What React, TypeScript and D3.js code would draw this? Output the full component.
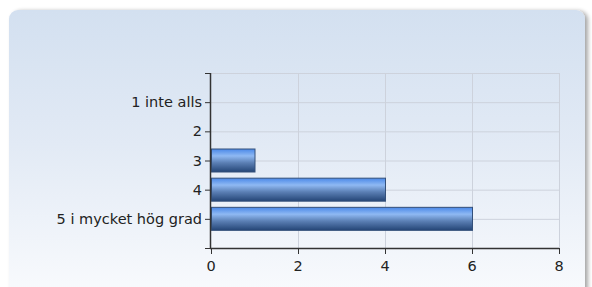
import React from 'react';
import * as d3 from 'd3';

const categories = ['1 inte alls', '2', '3', '4', '5 i mycket hög grad'];
const values = [0, 0, 1, 4, 6];
const xTicks = [0, 2, 4, 6, 8];

const W = 592;
const H = 287;

export default function App() {
  const margin = { left: 211, right: 33, top: 73, bottom: 39 };

  const x = d3.scaleLinear().domain([0, 8]).range([margin.left, W - margin.right]);
  // categories sit at 1..5 on a 0..6 scale
  const y = d3.scaleLinear().domain([0, 6]).range([margin.top, H - margin.bottom]);
  const yTicks = d3.range(0, 7);
  const barH = 23;

  const font = 'DejaVu Sans, Verdana, sans-serif';
  const fs = 14.5;

  return (
    <svg width={W} height={H} style={{ position: 'absolute', left: 0, top: 0 }}>
      <defs>
        <linearGradient id="panel" x1="0" y1="0" x2="0" y2="1">
          <stop offset="0%" stopColor="#d3e0f0" />
          <stop offset="45%" stopColor="#e2eaf5" />
          <stop offset="100%" stopColor="#fbfcfe" />
        </linearGradient>
        <linearGradient id="bar" x1="0" y1="0" x2="0" y2="1">
          <stop offset="0%" stopColor="#4a88e8" />
          <stop offset="30%" stopColor="#8fb9f3" />
          <stop offset="60%" stopColor="#5b7fb4" />
          <stop offset="100%" stopColor="#244576" />
        </linearGradient>
        <filter id="shadow" x="-5%" y="-5%" width="110%" height="110%">
          <feGaussianBlur in="SourceAlpha" stdDeviation="2" />
          <feOffset dx="3" dy="1" result="b" />
          <feComponentTransfer>
            <feFuncA type="linear" slope="0.35" />
          </feComponentTransfer>
          <feMerge>
            <feMergeNode />
            <feMergeNode in="SourceGraphic" />
          </feMerge>
        </filter>
      </defs>

      <rect x={9} y={10} width={576} height={300} rx={9} fill="url(#panel)" filter="url(#shadow)" />

      {/* grid */}
      {yTicks.slice(0, 6).map((t) => (
        <line key={'h' + t} x1={x(0)} x2={x(8)} y1={y(t) + 0.5} y2={y(t) + 0.5} stroke="#cdd2dc" />
      ))}
      {xTicks.slice(1).map((t) => (
        <line key={'v' + t} x1={x(t) + 0.5} x2={x(t) + 0.5} y1={y(0)} y2={y(6)} stroke="#cdd2dc" />
      ))}

      {/* bars */}
      {categories.map((c, i) =>
        values[i] > 0 ? (
          <rect
            key={c}
            x={x(0) + 0.5}
            y={y(i + 1) - barH / 2}
            width={x(values[i]) - x(0)}
            height={barH}
            fill="url(#bar)"
            stroke="#34507a"
            strokeWidth={1}
          />
        ) : null
      )}

      {/* y axis */}
      <line x1={x(0) - 0.5} x2={x(0) - 0.5} y1={y(0)} y2={y(6)} stroke="#333" strokeWidth={1.5} />
      {yTicks.map((t) => (
        <line key={'yt' + t} x1={x(0) - 6} x2={x(0)} y1={y(t) + 0.5} y2={y(t) + 0.5} stroke="#333" />
      ))}
      {categories.map((c, i) => (
        <text
          key={'yl' + c}
          x={x(0) - 9}
          y={y(i + 1)}
          dy="0.35em"
          textAnchor="end"
          fontFamily={font}
          fontSize={fs}
          fill="#222"
        >
          {c}
        </text>
      ))}

      {/* x axis */}
      <line x1={x(0) - 1} x2={x(8)} y1={y(6) + 0.5} y2={y(6) + 0.5} stroke="#333" strokeWidth={1.5} />
      {xTicks.map((t) => (
        <line key={'xt' + t} x1={x(t) + 0.5} x2={x(t) + 0.5} y1={y(6)} y2={y(6) + 6} stroke="#333" />
      ))}
      {xTicks.map((t) => (
        <text
          key={'xl' + t}
          x={x(t)}
          y={y(6) + 23}
          textAnchor="middle"
          fontFamily={font}
          fontSize={fs}
          fill="#222"
        >
          {t}
        </text>
      ))}
    </svg>
  );
}
